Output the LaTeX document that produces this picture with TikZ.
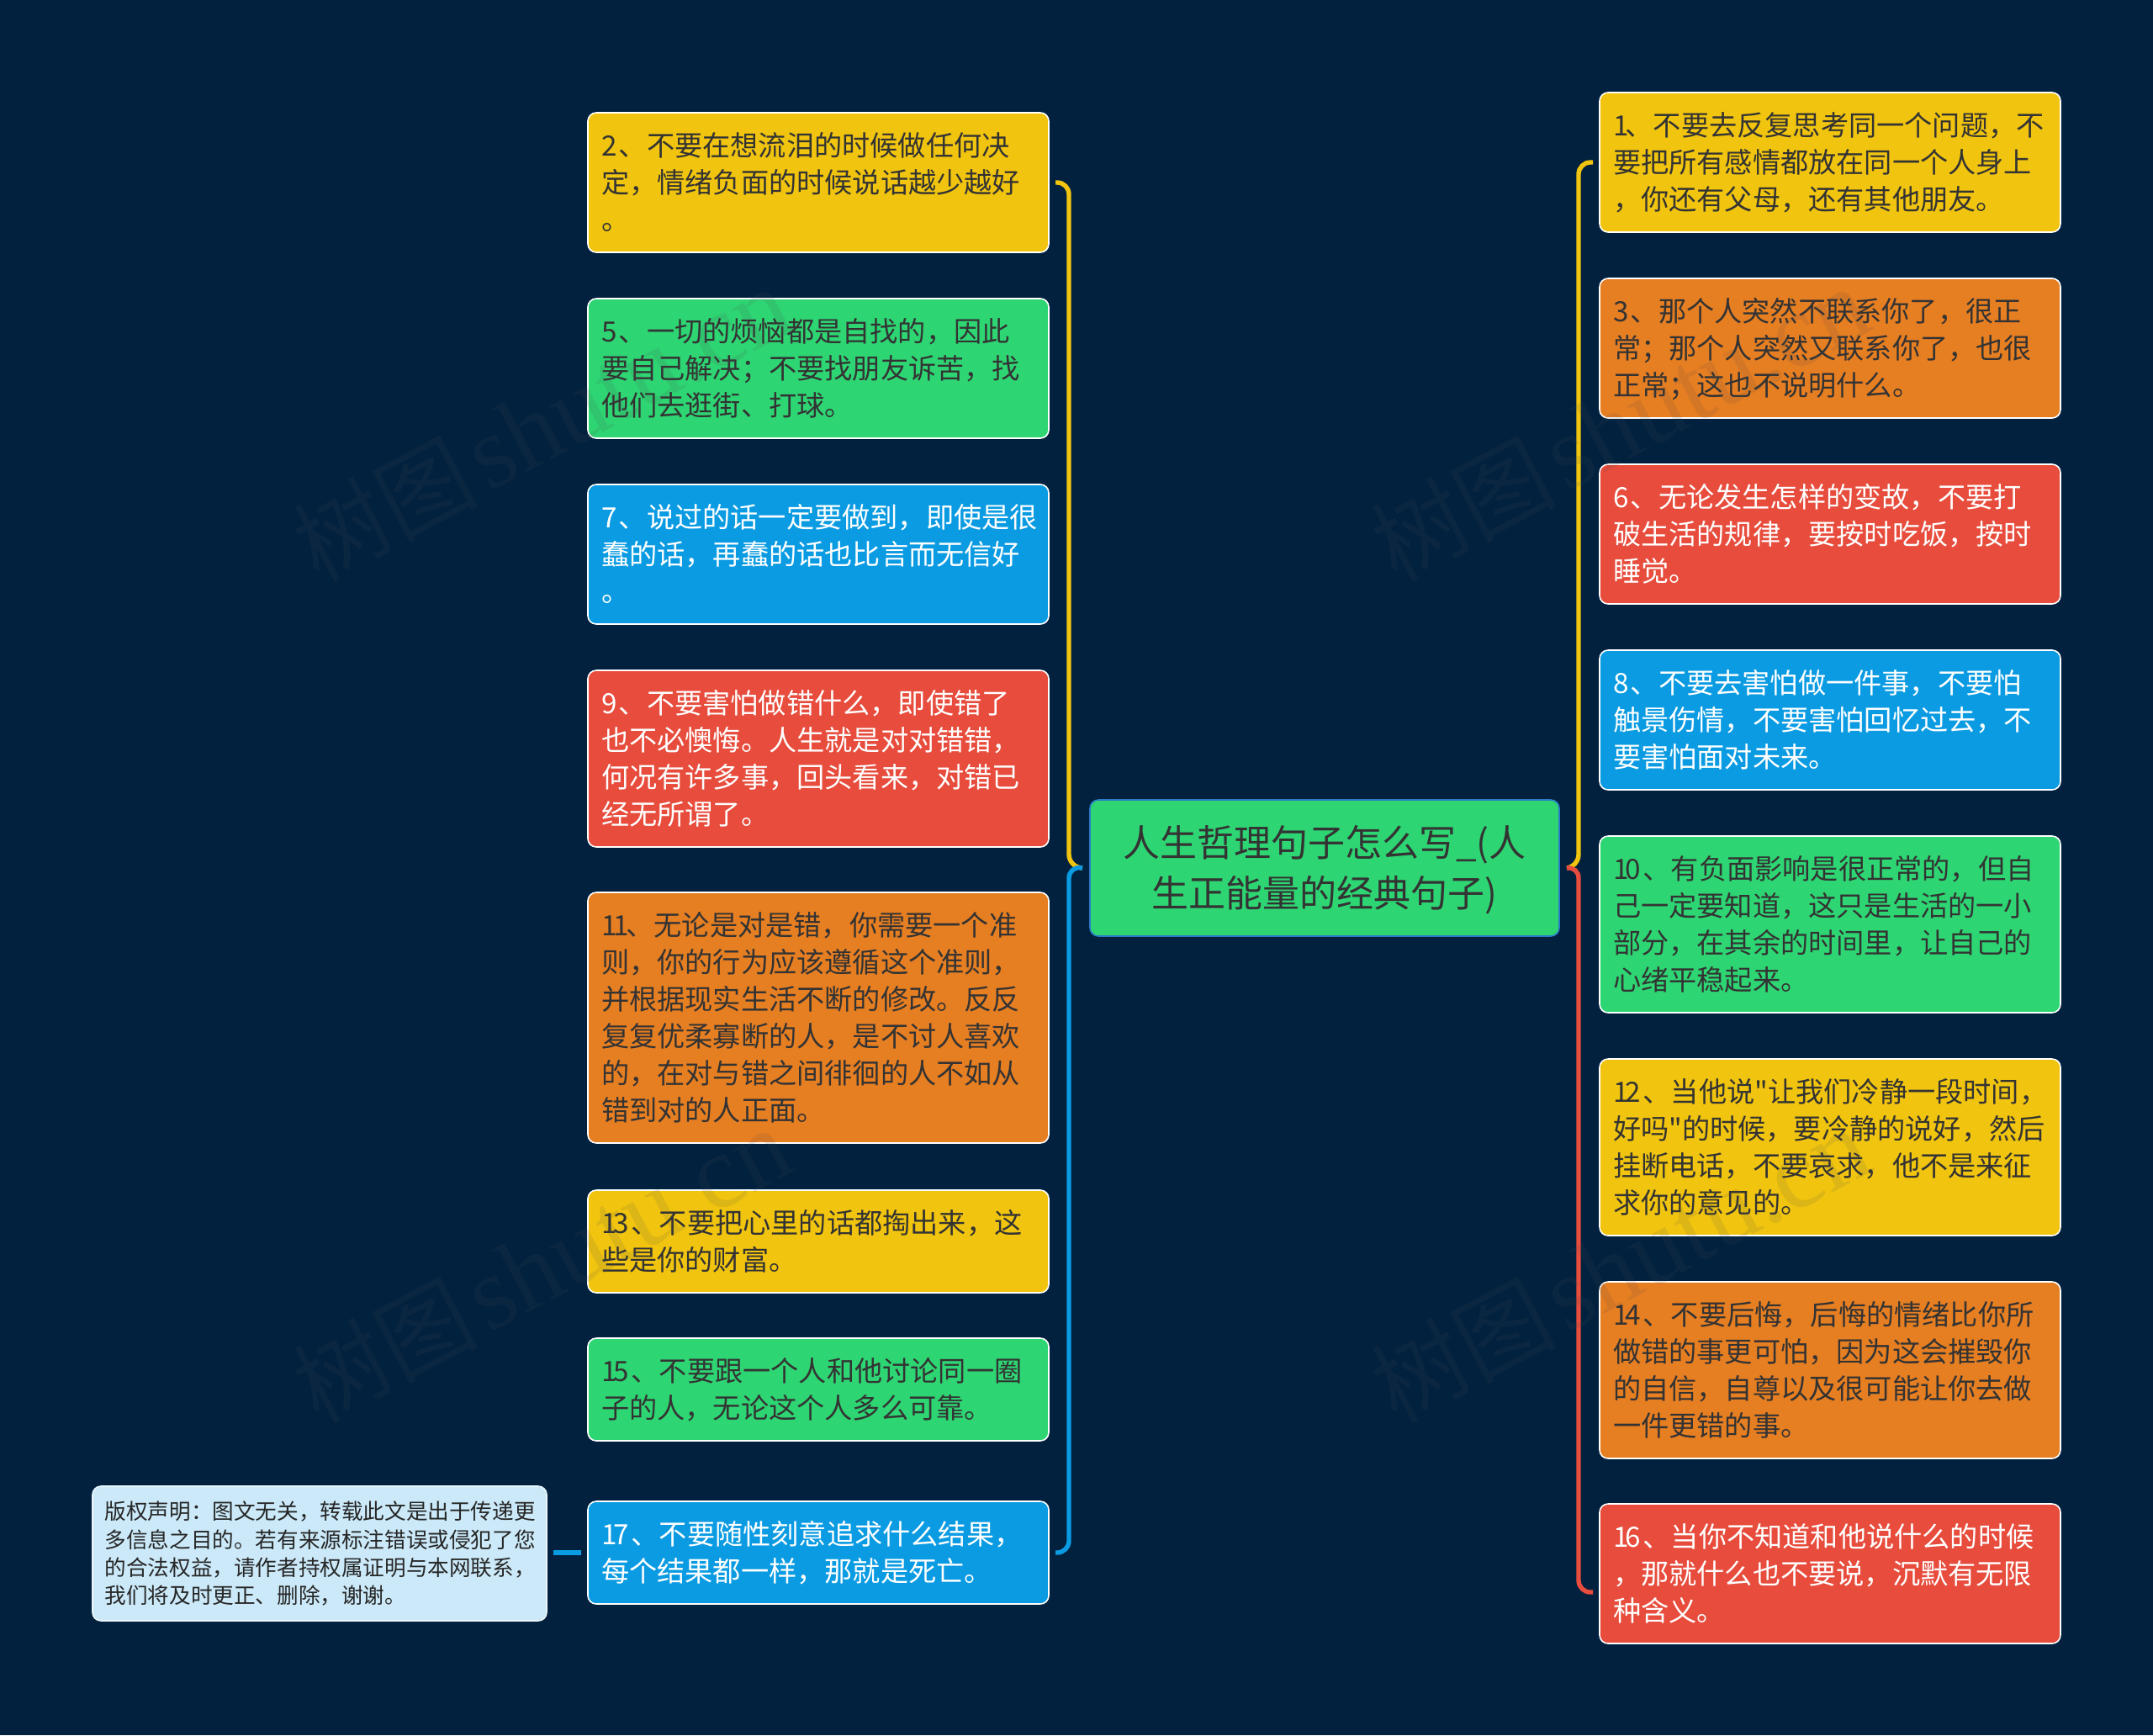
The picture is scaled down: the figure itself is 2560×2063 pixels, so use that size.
\documentclass[tikz,border=0pt]{standalone}
\usepackage{fontspec}
\setmainfont{Noto Sans CJK SC}
\newfontfamily\quotefont{Noto Sans CJK SC}
\newfontfamily\markfont{Liberation Serif}
\usepackage{xcolor}

\definecolor{pagebg}{HTML}{01213F}
\definecolor{mapyellow}{HTML}{F1C40F}
\definecolor{mapgreen}{HTML}{2ED573}
\definecolor{maporange}{HTML}{E67E22}
\definecolor{mapred}{HTML}{E74C3C}
\definecolor{mapblue}{HTML}{0A9BE2}
\definecolor{mapnote}{HTML}{CBE9F8}
\definecolor{rootline}{HTML}{2A7BC8}
\definecolor{darktext}{HTML}{333333}

\newcommand{\linestrut}{\rule[\dimexpr .38em-.5\baselineskip\relax]{0pt}{\baselineskip}}
\newcommand{\oneK}{\kern-.11em}
\newcommand{\digK}{\kern.075em}
\newcommand{\stamptext}{{\fontsize{55}{60}\selectfont 树图}\kern5pt{\markfont\fontsize{62}{60}\selectfont shutu.cn}}

\tikzset{
    mapbox/.style={
        rectangle,
        anchor=north west,
        draw=white,
        line width=0.8pt,
        rounded corners=5pt,
        inner xsep=8pt,
        inner ysep=0pt,
        outer sep=0pt,
        text width=258pt,
        align=left,
        font=\fontsize{16.6}{22}\selectfont,
        execute at begin node=\linestrut,
        execute at end node=\linestrut
    },
    boxlines/.style={minimum height=#1*22pt+17pt},
    yellowbox/.style={mapbox, fill=mapyellow, text=darktext},
    greenbox/.style={mapbox, fill=mapgreen, text=darktext},
    orangebox/.style={mapbox, fill=maporange, text=darktext},
    redbox/.style={mapbox, fill=mapred, text=white},
    bluebox/.style={mapbox, fill=mapblue, text=white},
    rootbox/.style={
        mapbox,
        fill=mapgreen,
        draw=rootline,
        text=darktext,
        text width=263pt,
        align=center,
        minimum height=81pt,
        font=\fontsize{22}{30}\selectfont
    },
    notebox/.style={
        mapbox,
        fill=mapnote,
        draw=mapnote!40!white,
        text=black!85,
        inner xsep=7.3pt,
        text width=255.4pt,
        minimum height=80pt,
        font=\fontsize{12.8}{16.7}\selectfont
    },
    maplink/.style={line width=2.7pt, rounded corners=7pt},
    markstamp/.style={
        rotate=28,
        text=black!70,
        text opacity=0.12
    }
}

\begin{document}
\begin{tikzpicture}[x=0.5pt,y=-0.5pt]
    \useasboundingbox (0,0) rectangle (2560,2063);
    \fill[pagebg] (0,0) rectangle (2560,2063);

    % centre
    \node[rootbox] (root) at (1296,951) {人生哲理句子怎么写\_(人\\生正能量的经典句子)};
    \coordinate (trunkL) at (1271,1030);
    \coordinate (trunkR) at (1877,1030);

    % left column
    \node[yellowbox, boxlines=3] (n2) at (699,134) {2\digK、不要在想流泪的时候做任何决\\定，情绪负面的时候说话越少越好\\。};
    \node[greenbox, boxlines=3] (n5) at (699,355) {5\digK、一切的烦恼都是自找的，因此\\要自己解决；不要找朋友诉苦，找\\他们去逛街、打球。};
    \node[bluebox, boxlines=3] (n7) at (699,576) {7\digK、说过的话一定要做到，即使是很\\蠢的话，再蠢的话也比言而无信好\\。};
    \node[redbox, boxlines=4] (n9) at (699,797) {9\digK、不要害怕做错什么，即使错了\\也不必懊悔。人生就是对对错错，\\何况有许多事，回头看来，对错已\\经无所谓了。};
    \node[orangebox, boxlines=6] (n11) at (699,1061) {1\oneK 1\oneK、无论是对是错，你需要一个准\\则，你的行为应该遵循这个准则，\\并根据现实生活不断的修改。反反\\复复优柔寡断的人，是不讨人喜欢\\的，在对与错之间徘徊的人不如从\\错到对的人正面。};
    \node[yellowbox, boxlines=2] (n13) at (699,1415) {1\oneK 3\digK、不要把心里的话都掏出来，这\\些是你的财富。};
    \node[greenbox, boxlines=2] (n15) at (699,1591) {1\oneK 5\digK、不要跟一个人和他讨论同一圈\\子的人，无论这个人多么可靠。};
    \node[bluebox, boxlines=2] (n17) at (699,1785) {1\oneK 7\digK、不要随性刻意追求什么结果，\\每个结果都一样，那就是死亡。};
    \node[notebox] (note) at (110,1767) {版权声明：图文无关，转载此文是出于传递更\\多信息之目的。若有来源标注错误或侵犯了您\\的合法权益，请作者持权属证明与本网联系，\\我们将及时更正、删除，谢谢。};

    % right column
    \node[yellowbox, boxlines=3] (n1) at (1902,110) {1\oneK、不要去反复思考同一个问题，不\\要把所有感情都放在同一个人身上\\，你还有父母，还有其他朋友。};
    \node[orangebox, boxlines=3] (n3) at (1902,331) {3\digK、那个人突然不联系你了，很正\\常；那个人突然又联系你了，也很\\正常；这也不说明什么。};
    \node[redbox, boxlines=3] (n6) at (1902,552) {6\digK、无论发生怎样的变故，不要打\\破生活的规律，要按时吃饭，按时\\睡觉。};
    \node[bluebox, boxlines=3] (n8) at (1902,773) {8\digK、不要去害怕做一件事，不要怕\\触景伤情，不要害怕回忆过去，不\\要害怕面对未来。};
    \node[greenbox, boxlines=4] (n10) at (1902,994) {1\oneK 0\digK、有负面影响是很正常的，但自\\己一定要知道，这只是生活的一小\\部分，在其余的时间里，让自己的\\心绪平稳起来。};
    \node[yellowbox, boxlines=4] (n12) at (1902,1259) {1\oneK 2\digK、当他说{\quotefont"}让我们冷静一段时间，\\好吗{\quotefont"}的时候，要冷静的说好，然后\\挂断电话，不要哀求，他不是来征\\求你的意见的。};
    \node[orangebox, boxlines=4] (n14) at (1902,1524) {1\oneK 4\digK、不要后悔，后悔的情绪比你所\\做错的事更可怕，因为这会摧毁你\\的自信，自尊以及很可能让你去做\\一件更错的事。};
    \node[redbox, boxlines=3] (n16) at (1902,1788) {1\oneK 6\digK、当你不知道和他说什么的时候\\，那就什么也不要说，沉默有无限\\种含义。};

    % links
    \draw[maplink, draw=mapyellow] ([xshift=4pt]n2.east) -- (n2.east -| trunkL) -- (trunkL) -- ([xshift=-4.5pt]root.west);
    \draw[maplink, draw=mapblue] ([xshift=4pt]n17.east) -- (n17.east -| trunkL) -- (trunkL) -- ([xshift=-4.5pt]root.west);
    \draw[maplink, draw=mapyellow] ([xshift=-4pt]n1.west) -- (n1.west -| trunkR) -- (trunkR) -- ([xshift=4.5pt]root.east);
    \draw[maplink, draw=mapred] ([xshift=-4pt,yshift=-11pt]n16.west) -- ([yshift=-11pt]n16.west -| trunkR) -- (trunkR) -- ([xshift=4.5pt]root.east);
    \draw[line width=2.7pt, draw=mapblue] ([xshift=-4pt]n17.west) -- ([xshift=4pt]note.east |- n17.west);

    % stamps
    \node[markstamp] (stampA) at (644,505) {\stamptext};
    \node[markstamp] (stampB) at (1926,505) {\stamptext};
    \node[markstamp] (stampC) at (644,1505) {\stamptext};
    \node[markstamp] (stampD) at (1926,1505) {\stamptext};
\end{tikzpicture}
\end{document}
